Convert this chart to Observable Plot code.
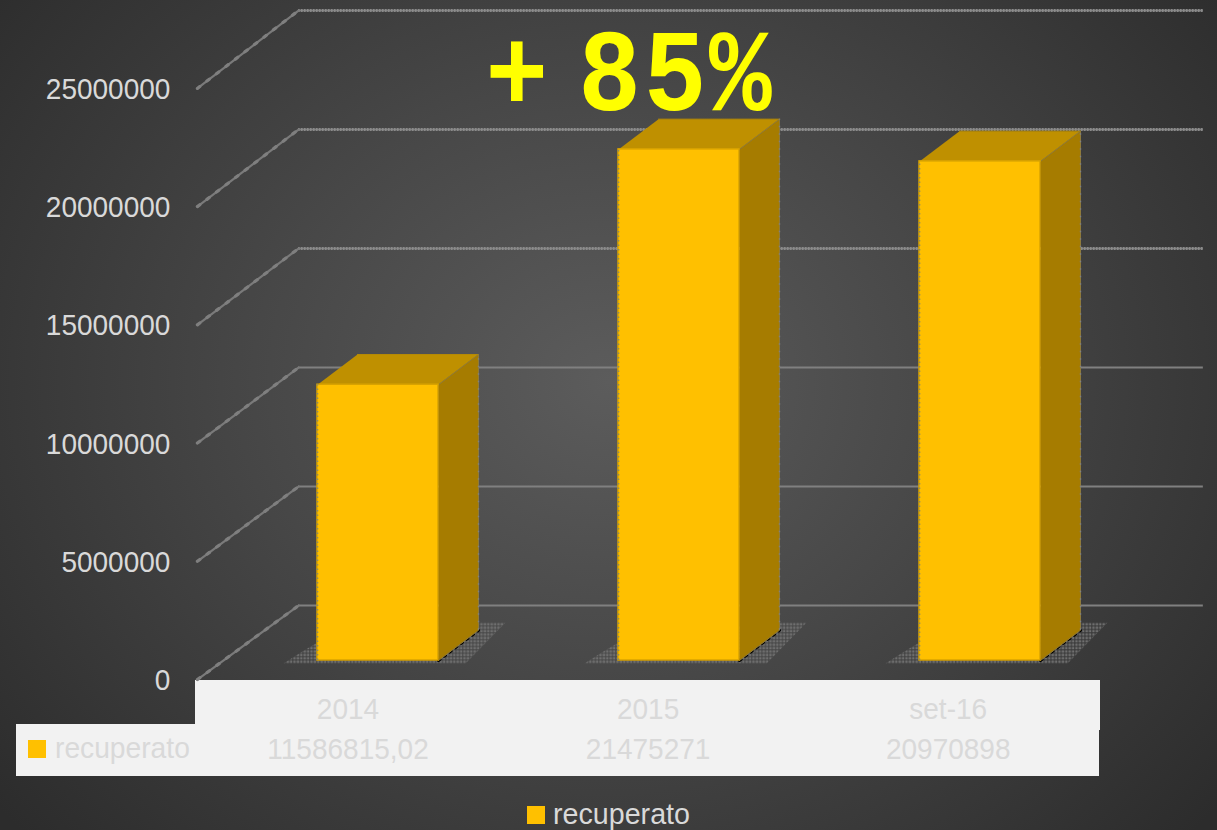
<!DOCTYPE html>
<html>
<head>
<meta charset="utf-8">
<script src="https://cdn.jsdelivr.net/npm/d3@7"></script>
<script src="https://cdn.jsdelivr.net/npm/@observablehq/plot@0.6"></script>
<style>
html,body{margin:0;padding:0;width:1217px;height:830px;overflow:hidden;
 background:radial-gradient(ellipse 790px 670px at 50% 46%,#5c5c5c 0%,#474747 45%,#2c2c2c 100%);
 font-family:"Liberation Sans",Arial,sans-serif;}
#chart{position:absolute;left:0;top:0;}
.bg{position:absolute;background:#f2f2f2;}
.sw{position:absolute;width:18px;height:18px;background:#ffc000;}
.lab{position:absolute;font-size:30px;line-height:32px;white-space:nowrap;transform-origin:left center;color:#d9d9d9;}
</style>
</head>
<body>
<div class="bg" style="left:195px;top:680px;width:905px;height:50px"></div>
<div class="bg" style="left:16px;top:724px;width:1083px;height:52px"></div>
<div class="sw" style="left:28px;top:740px"></div>
<div class="lab" style="left:55px;top:732px;transform:scaleX(.94)">recuperato</div>
<div class="sw" style="left:527px;top:806px"></div>
<div class="lab" style="left:553px;top:798px;transform:scaleX(.955)">recuperato</div>
<svg width="0" height="0" style="position:absolute"><defs>
 <pattern id="dots" width="3.4" height="3.4" patternUnits="userSpaceOnUse">
  <rect x="0.5" y="0.5" width="2.2" height="2.2" fill="#7e7e7e"/>
  <rect x="1.2" y="1.2" width="0.9" height="0.9" fill="#444"/>
 </pattern>
</defs></svg>
<div id="chart"></div>
<script>
// Data
const categories = ["2014", "2015", "set-16"];
const recuperato = [11586815.02, 21475271, 20970898];
const tableValues = ["11586815,02", "21475271", "20970898"];
const yTicks = [0, 5000000, 10000000, 15000000, 20000000, 25000000];
const callout = "+ 85%";

// 3D projection constants (data units of the two scales)
const halfBar = 0.201, depthX = 0.1329, depthY = 1270000;
const wallLift = 2310000, frontDrop = 800000, frontScale = 0.9935;
const wallL = -0.264, wallR = 2.742, frontL = -0.6, tableStep = 0.997;
const shadowX = [-0.314, 0.291, 0.424, 0.307, -0.19, -0.257];
const shadowY = [-130000, -130000, 1600000, 1600000, 840000, 340000];

const bars = recuperato.map((v, i) => ({i, v}));
const shadow = bars.flatMap(b => shadowX.map((dx, k) => ({i: b.i, x: b.i + dx, y: shadowY[k]})));
const topFace = bars.flatMap(b => [
  [-halfBar, 0], [halfBar, 0], [halfBar + depthX, depthY], [-halfBar + depthX, depthY]
].map(([x, y]) => ({i: b.i, x: b.i + x, y: b.v + y})));
const sideFace = bars.flatMap(b => [
  [halfBar, b.v], [halfBar + depthX, b.v + depthY], [halfBar + depthX, depthY], [halfBar, 0]
].map(([x, y]) => ({i: b.i, x: b.i + x, y})));
const floorEdge = bars.flatMap(b => [
  {i: b.i, x: b.i + halfBar, y: 0}, {i: b.i, x: b.i + halfBar + depthX, y: depthY}
]);
const diagonals = yTicks.flatMap(v => [
  {v, x: frontL, y: v * frontScale - frontDrop},
  {v, x: wallL, y: v + wallLift}
]);
const rough = yTicks.filter(v => v >= 15000000);

const plot = Plot.plot({
  width: 1217, height: 830,
  marginLeft: 0, marginRight: 0, marginTop: 0, marginBottom: 0,
  style: {background: "transparent", fontFamily: '"Liberation Sans",Arial,sans-serif'},
  x: {type: "linear", domain: [-0.5, 2.5], range: [227, 1130], axis: null},
  y: {type: "linear", domain: [0, 25000000], range: [660, 65], axis: null},
  marks: [
    // back wall gridlines
    Plot.ruleY(yTicks, {y: d => d + wallLift, x1: wallL, x2: wallR, stroke: "#808080", strokeWidth: 2.2}),
    Plot.ruleY(rough, {y: d => d + wallLift, x1: wallL, x2: wallR, stroke: "#8c8c8c", strokeWidth: 3, strokeDasharray: "1.5 1.5"}),
    // side wall diagonals
    Plot.line(diagonals, {x: "x", y: "y", z: "v", stroke: "#7a7a7a", strokeWidth: 2.2}),
    Plot.line(diagonals, {x: "x", y: "y", z: "v", stroke: "#7f7f7f", strokeWidth: 3.2, strokeDasharray: "3 9"}),
    // floor shadow
    Plot.line(shadow, {x: "x", y: "y", z: "i", fill: "url(#dots)", stroke: "none"}),
    Plot.line(floorEdge, {x: "x", y: "y", z: "i", stroke: "#000", strokeWidth: 3, strokeDasharray: "2 5"}),
    // 3D bars
    Plot.line(topFace, {x: "x", y: "y", z: "i", fill: "#bf9000", stroke: "#b58a05", strokeWidth: 1}),
    Plot.line(sideFace, {x: "x", y: "y", z: "i", fill: "#a67c00", stroke: "#8f7a3a", strokeWidth: 1}),
    Plot.rect(bars, {x1: d => d.i - halfBar, x2: d => d.i + halfBar, y1: 0, y2: "v", fill: "#ffc000", stroke: "#d9a300", strokeWidth: 1.5}),
    Plot.ruleX(bars, {x: d => d.i - halfBar, y1: 0, y2: "v", stroke: "#8a8a6a", strokeWidth: 1.6, strokeDasharray: "1.5 3"}),
    Plot.ruleX(bars, {x: d => d.i + halfBar + depthX, y1: depthY, y2: d => d.v + depthY, stroke: "#808080", strokeWidth: 1.4, strokeDasharray: "1.5 6"}),
    // y axis labels
    Plot.text(yTicks, {x: frontL, y: d => d * frontScale - frontDrop, text: d => String(d), textAnchor: "end", dx: -27, dy: 1, fontSize: 30, fill: "#d9d9d9", className: "cond"}),
    // data table
    Plot.text(categories, {x: (d, i) => i * tableStep, y: () => 0, dx: -30, dy: 49, text: d => d, fontSize: 30, fill: "#d9d9d9", className: "cond"}),
    Plot.text(tableValues, {x: (d, i) => i * tableStep, y: () => 0, dx: -30, dy: 89, text: d => d, fontSize: 30, fill: "#d9d9d9", className: "cond"}),
    // callout
    Plot.text([callout], {x: 0.357, y: 25000000, dy: 7, text: d => d, textAnchor: "start", fontSize: 116, fontWeight: "bold",
      fontFamily: '"Liberation Mono"', fill: "#ffff00",
      render(index, scales, values, dims, ctx, next) {
        const g = next(index, scales, values, dims, ctx);
        g.querySelectorAll("text").forEach(t => {
          t.style.letterSpacing = "3px";
          t.style.wordSpacing = "-42px";
          t.setAttribute("transform", (t.getAttribute("transform") || "") + " scale(.9,1)");
        });
        return g;
      }})
  ]
});
document.getElementById("chart").append(plot);
// the reference's labels are slightly condensed
plot.querySelectorAll(".cond text").forEach(t => {
  t.setAttribute("textLength", t.getComputedTextLength() * 28 / 30);
  t.setAttribute("lengthAdjust", "spacingAndGlyphs");
});
</script>
</body>
</html>
